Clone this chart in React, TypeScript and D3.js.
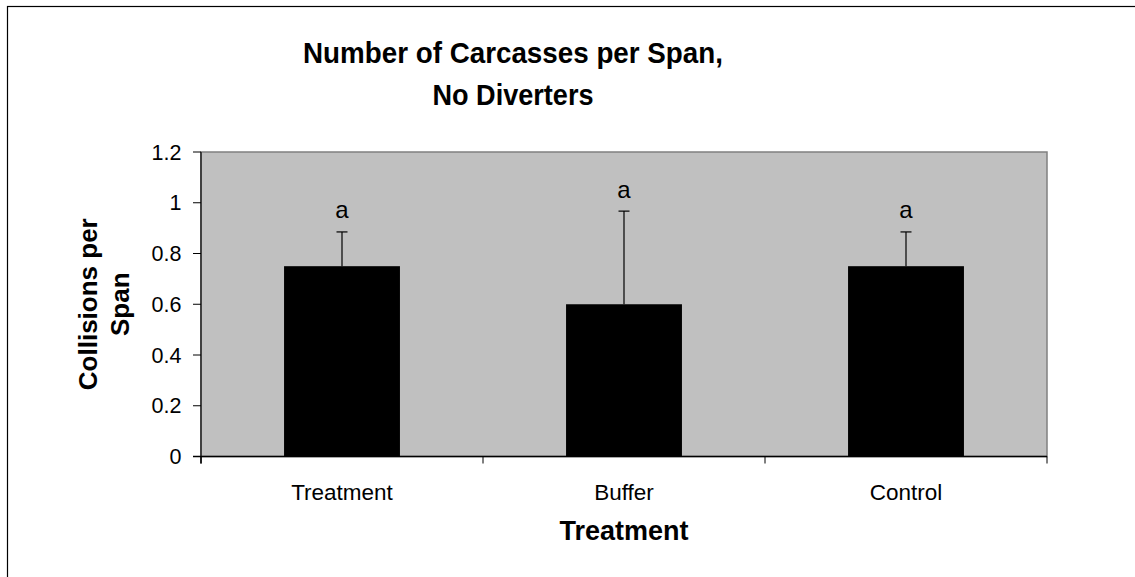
import React from "react";
import * as d3 from "d3";

const categories = ["Treatment", "Buffer", "Control"];
const means = [0.75, 0.6, 0.75];
const errors = [0.135, 0.367, 0.135];
const letters = ["a", "a", "a"];
const yTicks = [0, 0.2, 0.4, 0.6, 0.8, 1, 1.2];
const titleLines = ["Number of Carcasses per Span,", "No Diverters"];
const yTitleLines = ["Collisions per", "Span"];
const xTitle = "Treatment";

const W = 1135;
const H = 577;
const plot = { left: 201, right: 1047, top: 152, bottom: 456.5 };
const FONT = "'Liberation Sans', Arial, sans-serif";

export default function App() {
  const x = d3
    .scaleBand<string>()
    .domain(categories)
    .range([plot.left, plot.right])
    .paddingInner(0.589)
    .paddingOuter(0.2945);
  const xOuter = d3.scaleBand<string>().domain(categories).range([plot.left, plot.right]);
  const y = d3.scaleLinear().domain([0, 1.2]).range([plot.bottom, plot.top]);
  const bw = x.bandwidth();
  const xTickPositions = [plot.left, ...categories.map((c) => (xOuter(c) as number) + xOuter.bandwidth())];
  const titleLengths = [420, 161];

  return (
    <svg
      width={W}
      height={H}
      style={{ position: "absolute", left: 0, top: 0, background: "#fff" }}
      fontFamily={FONT}
    >
      <rect x={7.5} y={6.5} width={1400} height={800} fill="#fff" stroke="#000" strokeWidth={1.2} />
      {titleLines.map((t, i) => (
        <text
          key={t}
          x={513}
          y={63 + i * 42}
          textAnchor="middle"
          fontSize={30}
          fontWeight="bold"
          fill="#000"
          textLength={titleLengths[i]}
          lengthAdjust="spacingAndGlyphs"
        >
          {t}
        </text>
      ))}
      <rect
        x={plot.left}
        y={plot.top}
        width={plot.right - plot.left}
        height={plot.bottom - plot.top}
        fill="#C0C0C0"
        stroke="#808080"
        strokeWidth={1.5}
      />
      {categories.map((c, i) => {
        const cx = (x(c) as number) + bw / 2;
        const top = y(means[i] + errors[i]);
        return (
          <g key={c}>
            <rect x={x(c)} y={y(means[i])} width={bw} height={plot.bottom - y(means[i])} fill="#000" />
            <line x1={cx} x2={cx} y1={y(means[i])} y2={top} stroke="#000" strokeWidth={1.2} />
            <line x1={cx - 5.5} x2={cx + 5.5} y1={top} y2={top} stroke="#000" strokeWidth={1.2} />
            <text x={cx} y={top - 13.5} textAnchor="middle" fontSize={24} fill="#000">
              {letters[i]}
            </text>
            <text x={cx} y={500} textAnchor="middle" fontSize={22.5} fill="#000">
              {c}
            </text>
          </g>
        );
      })}
      {/* y axis */}
      <line x1={plot.left} x2={plot.left} y1={plot.top} y2={plot.bottom + 7} stroke="#404040" strokeWidth={2} />
      {yTicks.map((t) => (
        <g key={t}>
          <line x1={plot.left - 8} x2={plot.left} y1={y(t)} y2={y(t)} stroke="#000" strokeWidth={1} />
          <text x={181.5} y={y(t) + 7.5} textAnchor="end" fontSize={21.5} fill="#000">
            {d3.format("")(t)}
          </text>
        </g>
      ))}
      {/* x axis */}
      <line x1={plot.left - 8} x2={plot.right} y1={plot.bottom} y2={plot.bottom} stroke="#000" strokeWidth={1.5} />
      {xTickPositions.map((p, i) => (
        <line key={i} x1={p} x2={p} y1={plot.bottom} y2={plot.bottom + 7} stroke="#000" strokeWidth={1} />
      ))}
      <text
        x={(plot.left + plot.right) / 2}
        y={540}
        textAnchor="middle"
        fontSize={27}
        fontWeight="bold"
        fill="#000"
      >
        {xTitle}
      </text>
      {yTitleLines.map((t, i) => (
        <text
          key={t}
          transform={`translate(${97 + i * 32},${(plot.top + plot.bottom) / 2}) rotate(-90)`}
          textAnchor="middle"
          fontSize={26}
          fontWeight="bold"
          fill="#000"
        >
          {t}
        </text>
      ))}
    </svg>
  );
}
